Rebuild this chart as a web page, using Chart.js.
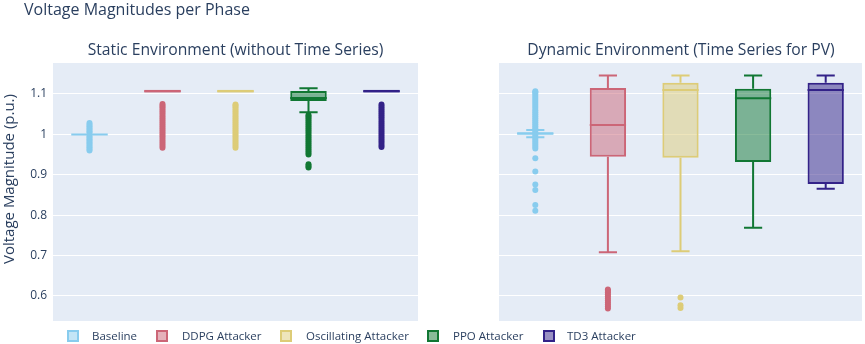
<!DOCTYPE html>
<html><head><meta charset="utf-8">
<script src="https://cdn.jsdelivr.net/npm/chart.js@4.4.1/dist/chart.umd.min.js"></script>
<style>
html,body{margin:0;padding:0;background:#fff;}
#wrap{position:relative;width:865px;height:344px;overflow:hidden;font-family:"Open Sans",sans-serif;color:#2a3f5f;}
canvas{position:absolute;left:0;top:0;}
.t{position:absolute;white-space:nowrap;line-height:1;}
.sub{text-align:center;width:400px;font-size:15.7px;}
.leg{position:absolute;font-size:11.5px;line-height:1;white-space:nowrap;}
.ico{position:absolute;width:8px;height:8px;border:2px solid;}
</style></head><body>
<div id="wrap">
<canvas id="cStatic" width="865" height="344"></canvas>
<canvas id="cDynamic" width="865" height="344"></canvas>
<div class="t" style="left:24px;top:0.8px;font-size:16px;">Voltage Magnitudes per Phase</div>
<div class="t sub" style="left:35.5px;top:41.8px;">Static Environment (without Time Series)</div>
<div class="t sub" style="left:481px;top:41.8px;">Dynamic Environment (Time Series for PV)</div>
<div class="t" style="left:-142px;top:171px;width:300px;height:16px;line-height:16px;text-align:center;font-size:15px;transform:rotate(-90deg);">Voltage Magnitude (p.u.)</div>
<div id="legend"></div>
</div>
<script>
// ---------- data ----------
const categories = ['Baseline', 'DDPG Attacker', 'Oscillating Attacker', 'PPO Attacker', 'TD3 Attacker'];
const seriesColors = ['#88CCEE', '#CC6677', '#DDCC77', '#117733', '#332288'];
const seriesFills = ['rgba(136,204,238,0.5)', 'rgba(204,102,119,0.5)', 'rgba(221,204,119,0.5)', 'rgba(17,119,51,0.5)', 'rgba(51,34,136,0.5)'];
const yTickValues = [0.6, 0.7, 0.8, 0.9, 1.0, 1.1];
const yTickLabels = ['0.6', '0.7', '0.8', '0.9', '1', '1.1'];
const yMin = 0.538, yMax = 1.1767;

// Static environment (without time series)
const staticQ1 = [0.9998, 1.1034, 1.1034, 1.0827, 1.1034];
const staticQ3 = [1.0002, 1.1106, 1.1106, 1.1074, 1.1106];
const staticMedian = [1.0, 1.107, 1.107, 1.090, 1.107];
const staticLowerWhisker = [1.0, 1.107, 1.107, 1.0547, 1.107];
const staticUpperWhisker = [1.0, 1.107, 1.107, 1.114, 1.107];
const staticBaselineOutliers = [0.960, 0.964, 0.968, 0.972, 0.976, 0.980, 0.984, 0.988, 0.992, 0.996, 1.004, 1.008, 1.012, 1.016, 1.020, 1.024, 1.028];
const staticDdpgOutliers = [0.967, 0.972, 0.977, 0.982, 0.987, 0.992, 0.997, 1.002, 1.007, 1.012, 1.017, 1.022, 1.027, 1.032, 1.037, 1.042, 1.047, 1.052, 1.057, 1.062, 1.067, 1.071, 1.075];
const staticOscOutliers = [0.967, 0.972, 0.977, 0.982, 0.987, 0.992, 0.997, 1.002, 1.007, 1.012, 1.017, 1.022, 1.027, 1.032, 1.037, 1.042, 1.047, 1.052, 1.057, 1.062, 1.067, 1.071, 1.074];
const staticPpoOutliers = [0.918, 0.922, 0.926, 0.950, 0.955, 0.960, 0.965, 0.970, 0.975, 0.980, 0.985, 0.990, 0.995, 1.000, 1.005, 1.010, 1.015, 1.020, 1.025, 1.030, 1.035, 1.040, 1.044, 1.048];
const staticTd3Outliers = [0.969, 0.974, 0.979, 0.984, 0.989, 0.994, 0.999, 1.004, 1.009, 1.014, 1.019, 1.024, 1.029, 1.034, 1.039, 1.044, 1.049, 1.054, 1.059, 1.064, 1.069, 1.074];

// Dynamic environment (time series for PV)
const dynamicQ1 = [0.999, 0.9448, 0.9423, 0.9317, 0.8772];
const dynamicQ3 = [1.005, 1.1149, 1.128, 1.1131, 1.128];
const dynamicMedian = [1.002, 1.0233, 1.1099, 1.0894, 1.1099];
const dynamicLowerWhisker = [0.993, 0.7082, 0.7106, 0.769, 0.8656];
const dynamicUpperWhisker = [1.011, 1.146, 1.146, 1.146, 1.146];
const dynamicBaselineOutliers = [0.811, 0.825, 0.862, 0.876, 0.908, 0.941, 0.965, 0.970, 0.975, 0.980, 0.985, 0.990, 0.995, 1.000, 1.005, 1.010, 1.015, 1.020, 1.025, 1.030, 1.035, 1.040, 1.045, 1.050, 1.055, 1.060, 1.065, 1.070, 1.075, 1.080, 1.085, 1.090, 1.095, 1.100, 1.104, 1.107];
const dynamicDdpgOutliers = [0.569, 0.574, 0.579, 0.584, 0.589, 0.594, 0.599, 0.604, 0.609, 0.613, 0.616];
const dynamicOscOutliers = [0.570, 0.577, 0.596];
const dynamicPpoOutliers = [];
const dynamicTd3Outliers = [];

// ---------- plugins ----------
const plotBg = {
  id: 'plotBg',
  beforeDraw(chart) {
    const { ctx, chartArea: a } = chart;
    ctx.save();
    ctx.fillStyle = '#E5ECF6';
    ctx.fillRect(a.left, a.top, a.right - a.left, a.bottom - a.top);
    ctx.restore();
  }
};
const boxWhiskers = {
  id: 'boxWhiskers',
  afterDatasetsDraw(chart) {
    const ds = chart.data.datasets[0];
    const meta = chart.getDatasetMeta(0);
    const ys = chart.scales.y;
    const { ctx, chartArea: a } = chart;
    ctx.save();
    ctx.beginPath();
    ctx.rect(a.left, a.top, a.right - a.left, a.bottom - a.top);
    ctx.clip();
    meta.data.forEach((bar, i) => {
      const half = bar.width / 2, cap = bar.width / 4, x = bar.x;
      const yMed = ys.getPixelForValue(ds.median[i]);
      const yQ1 = ys.getPixelForValue(ds.data[i][0]);
      const yQ3 = ys.getPixelForValue(ds.data[i][1]);
      const yLo = ys.getPixelForValue(ds.lower[i]);
      const yHi = ys.getPixelForValue(ds.upper[i]);
      ctx.strokeStyle = seriesColors[i];
      ctx.lineWidth = 2;
      ctx.beginPath();
      ctx.moveTo(x - half, yMed); ctx.lineTo(x + half, yMed);
      if (yHi < yQ3 - 0.5) {
        ctx.moveTo(x, yQ3); ctx.lineTo(x, yHi);
        ctx.moveTo(x - cap, yHi); ctx.lineTo(x + cap, yHi);
      }
      if (yLo > yQ1 + 0.5) {
        ctx.moveTo(x, yQ1); ctx.lineTo(x, yLo);
        ctx.moveTo(x - cap, yLo); ctx.lineTo(x + cap, yLo);
      }
      ctx.stroke();
    });
    ctx.restore();
  }
};

function outlierDataset(label, values, idx) {
  return {
    type: 'line', label: label + ' outliers', showLine: false, order: 2,
    data: values.map(v => ({ x: categories[idx], y: v })),
    pointRadius: 3, pointHoverRadius: 3, pointBorderWidth: 0,
    pointBackgroundColor: seriesColors[idx], borderColor: seriesColors[idx]
  };
}

function makeChart(id, q1, q3, med, lo, hi, outliers, padding, showTicks) {
  const datasets = [{
    type: 'bar', label: 'boxes', order: 1,
    data: q1.map((v, i) => [v, q3[i]]),
    median: med, lower: lo, upper: hi,
    backgroundColor: seriesFills, borderColor: seriesColors, borderWidth: 2, borderSkipped: false,
    barPercentage: 0.5, categoryPercentage: 1.0
  }];
  outliers.forEach((vals, i) => datasets.push(outlierDataset(categories[i], vals, i)));
  return new Chart(document.getElementById(id), {
    type: 'bar',
    data: { labels: categories, datasets },
    options: {
      responsive: false, animation: false, devicePixelRatio: 1,
      layout: { padding },
      plugins: { legend: { display: false }, tooltip: { enabled: false }, title: { display: false } },
      scales: {
        x: { display: false, offset: true, grid: { display: false } },
        y: {
          min: yMin, max: yMax,
          afterBuildTicks(scale) { scale.ticks = yTickValues.map(v => ({ value: v })); },
          afterFit(scale) { scale.width = showTicks ? 53 : 0; },
          border: { display: false },
          grid: { color: '#ffffff', lineWidth: 1, drawTicks: false },
          ticks: {
            display: showTicks, padding: 6, color: '#2a3f5f',
            font: { family: 'Open Sans', size: 12 },
            callback: (v, i) => yTickLabels[i]
          }
        }
      }
    },
    plugins: [plotBg, boxWhiskers]
  });
}

makeChart('cStatic', staticQ1, staticQ3, staticMedian, staticLowerWhisker, staticUpperWhisker,
  [staticBaselineOutliers, staticDdpgOutliers, staticOscOutliers, staticPpoOutliers, staticTd3Outliers],
  { left: 0, right: 865 - 418, top: 63, bottom: 344 - 321 }, true);
makeChart('cDynamic', dynamicQ1, dynamicQ3, dynamicMedian, dynamicLowerWhisker, dynamicUpperWhisker,
  [dynamicBaselineOutliers, dynamicDdpgOutliers, dynamicOscOutliers, dynamicPpoOutliers, dynamicTd3Outliers],
  { left: 499, right: 2, top: 63, bottom: 344 - 321 }, false);

// ---------- legend ----------
const legendIconX = [67, 156, 280, 427, 543];
const legendTextX = [92, 182, 306, 453, 567];
const leg = document.getElementById('legend');
categories.forEach((c, i) => {
  const ico = document.createElement('div');
  ico.className = 'ico';
  ico.style.left = legendIconX[i] + 'px'; ico.style.top = '330px';
  ico.style.borderColor = seriesColors[i]; ico.style.background = seriesFills[i];
  leg.appendChild(ico);
  const t = document.createElement('div');
  t.className = 'leg'; t.textContent = c;
  t.style.left = legendTextX[i] + 'px'; t.style.top = '330.3px';
  leg.appendChild(t);
});
</script>
</body></html>
